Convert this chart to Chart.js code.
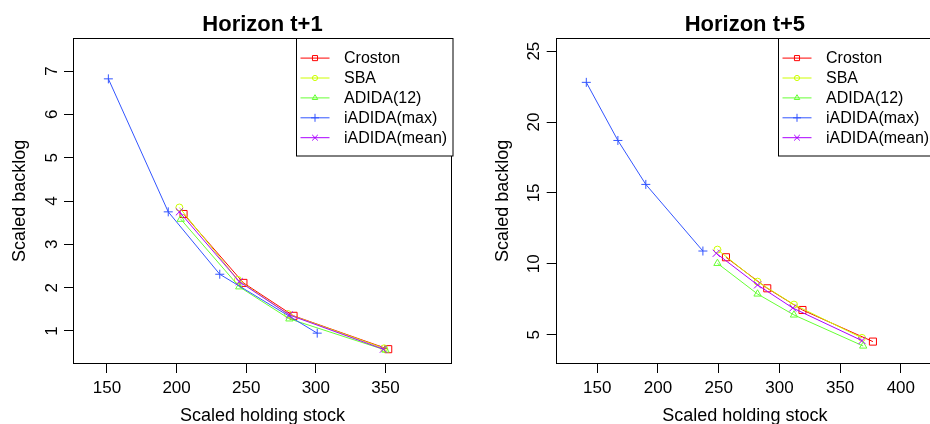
<!DOCTYPE html>
<html><head><meta charset="utf-8">
<script src="https://cdn.jsdelivr.net/npm/chart.js@4/dist/chart.umd.min.js"></script>
<style>
html,body{margin:0;padding:0;background:#fff;overflow:hidden;width:930px;height:424px;position:relative;}
#c1{position:absolute;left:0;top:0;}
#c2{position:absolute;left:465px;top:0;}
</style></head><body>
<canvas id="c1" width="465" height="424"></canvas>
<canvas id="c2" width="475" height="424"></canvas>
<script>
const seriesNames = ['Croston', 'SBA', 'ADIDA(12)', 'iADIDA(max)', 'iADIDA(mean)'];
const seriesColors = ['#FF0000', '#CCFF00', '#66FF33', '#3355FF', '#AA00FF'];
const seriesPointStyles = ['rect', 'circle', 'triangle', 'cross', 'crossRot'];

const panelTitles = ['Horizon t+1', 'Horizon t+5'];
const xAxisTitle = 'Scaled holding stock';
const yAxisTitle = 'Scaled backlog';

// Horizon t+1
const h1CrostonX = [205, 248, 284, 352];
const h1CrostonY = [3.70, 2.11, 1.35, 0.58];
const h1SbaX = [202, 244, 280, 349];
const h1SbaY = [3.85, 2.18, 1.39, 0.60];
const h1AdidaX = [203, 245, 281, 350];
const h1AdidaY = [3.58, 2.02, 1.28, 0.56];
const h1MaxX = [151, 194, 231, 301];
const h1MaxY = [6.82, 3.75, 2.31, 0.95];
const h1MeanX = [202, 245, 281, 348.5];
const h1MeanY = [3.75, 2.14, 1.37, 0.58];

// Horizon t+5
const h5CrostonX = [256, 290, 319, 377];
const h5CrostonY = [10.46, 8.27, 6.74, 4.51];
const h5SbaX = [249, 282, 312, 368];
const h5SbaY = [11.00, 8.74, 7.12, 4.77];
const h5AdidaX = [249, 282, 312, 369];
const h5AdidaY = [10.03, 7.87, 6.39, 4.20];
const h5MaxX = [141, 167, 190, 237];
const h5MaxY = [22.8, 18.7, 15.6, 10.9];
const h5MeanX = [248, 282, 311, 368];
const h5MeanY = [10.74, 8.51, 6.88, 4.58];

// Tick labels
const h1XTicks = [150, 200, 250, 300, 350];
const h1YTicks = [1, 2, 3, 4, 5, 6, 7];
const h5XTicks = [150, 200, 250, 300, 350, 400];
const h5YTicks = [5, 10, 15, 20, 25];

// Axis ranges
const h1XRange = [125.6, 397.8];
const h1YRange = [0.238, 7.77];
const h5XRange = [115.8, 427.3];
const h5YRange = [2.93, 25.95];

const FONT = '"Liberation Sans", Arial, Helvetica, sans-serif';
const pointRadii = [5, 3.5, 4.2, 4.5, 5];
const legendRadii = [3.6, 2.6, 3.2, 4, 4];

function zip(xs, ys) { return xs.map((x, i) => ({x: x, y: ys[i]})); }

const overlay = {
  id: 'overlay',
  afterDraw(chart, args, o) {
    const ctx = chart.ctx, a = chart.chartArea;
    ctx.save();
    // plot box
    const L = Math.round(a.left) + 0.5, T = Math.round(a.top) + 0.5;
    const R = Math.round(a.right) - 0.5, B = Math.round(a.bottom) - 0.5;
    ctx.strokeStyle = '#000'; ctx.lineWidth = 1;
    ctx.strokeRect(L, T, R - L, B - T);
    // title
    ctx.fillStyle = '#000';
    ctx.font = 'bold 22px ' + FONT;
    ctx.textAlign = 'center'; ctx.textBaseline = 'alphabetic';
    ctx.fillText(o.title, (a.left + a.right) / 2, 31);
    // y tick labels (rotated, like R)
    const ys = chart.scales.y;
    ctx.font = '17px ' + FONT;
    ys.ticks.forEach(t => {
      const py = ys.getPixelForValue(t.value);
      ctx.save();
      ctx.translate(a.left - 16.5, py);
      ctx.rotate(-Math.PI / 2);
      ctx.textAlign = 'center'; ctx.textBaseline = 'alphabetic';
      ctx.fillText(String(t.value), 0, 0);
      ctx.restore();
    });
    // legend
    const lw = 156.5, lh = 117.5;
    const x0 = Math.round(a.right - lw) + 0.5, y0 = T;
    ctx.fillStyle = '#fff';
    ctx.fillRect(x0, y0, lw, lh);
    ctx.strokeStyle = '#000';
    ctx.strokeRect(x0, y0, lw, lh);
    chart.data.datasets.forEach((ds, i) => {
      const ry = y0 + 19.6 + i * 19.9;
      ctx.strokeStyle = ds.borderColor; ctx.lineWidth = 1;
      ctx.beginPath(); ctx.moveTo(x0 + 4, ry); ctx.lineTo(x0 + 33, ry); ctx.stroke();
      ctx.fillStyle = 'rgba(0,0,0,0)';
      Chart.helpers.drawPoint(ctx, {pointStyle: ds.pointStyle, radius: legendRadii[i], borderWidth: 1, rotation: 0}, x0 + 18.5, ry);
      ctx.fillStyle = '#000';
      ctx.font = '16px ' + FONT;
      ctx.textAlign = 'left'; ctx.textBaseline = 'middle';
      ctx.fillText(ds.label, x0 + 47.5, ry + 0.5);
    });
    ctx.restore();
  }
};

function makeChart(id, xsList, ysList, xRange, yRange, xTicks, yTicks, title, yAxisW, padRight, yTitlePad) {
  const datasets = seriesNames.map((name, i) => ({
    label: name,
    data: zip(xsList[i], ysList[i]),
    showLine: true,
    borderColor: seriesColors[i],
    backgroundColor: 'rgba(0,0,0,0)',
    borderWidth: 1,
    pointStyle: seriesPointStyles[i],
    pointRadius: pointRadii[i],
    pointHoverRadius: pointRadii[i],
    pointBorderColor: seriesColors[i],
    pointBackgroundColor: 'rgba(0,0,0,0)',
    pointBorderWidth: 1,
    order: seriesNames.length - i,
    tension: 0
  }));
  return new Chart(document.getElementById(id), {
    type: 'scatter',
    data: {datasets},
    options: {
      responsive: false,
      animation: false,
      devicePixelRatio: 1,
      layout: {padding: {top: 37.7, right: padRight, bottom: 0, left: 0}},
      plugins: {legend: {display: false}, tooltip: {enabled: false}, title: {display: false}, overlay: {title}},
      scales: {
        x: {
          type: 'linear', min: xRange[0], max: xRange[1],
          afterBuildTicks: s => { s.ticks = xTicks.map(v => ({value: v})); },
          afterFit: s => { s.height = 60; },
          border: {display: false},
          grid: {drawOnChartArea: false, drawTicks: true, tickLength: 9, color: '#000', lineWidth: 1},
          ticks: {color: '#000', font: {family: FONT, size: 17}, padding: 5, maxRotation: 0, autoSkip: false},
          title: {display: true, text: xAxisTitle, color: '#000', font: {family: FONT, size: 18, lineHeight: 1}, padding: {top: 0, bottom: -1}}
        },
        y: {
          type: 'linear', min: yRange[0], max: yRange[1],
          afterBuildTicks: s => { s.ticks = yTicks.map(v => ({value: v})); },
          afterFit: s => { s.width = yAxisW; },
          border: {display: false},
          grid: {drawOnChartArea: false, drawTicks: true, tickLength: 9, color: '#000', lineWidth: 1},
          ticks: {display: false},
          title: {display: true, text: yAxisTitle, color: '#000', font: {family: FONT, size: 18, lineHeight: 1}, padding: {top: yTitlePad - 0.5, bottom: 0}}
        }
      }
    },
    plugins: [overlay]
  });
}

makeChart('c1',
  [h1CrostonX, h1SbaX, h1AdidaX, h1MaxX, h1MeanX],
  [h1CrostonY, h1SbaY, h1AdidaY, h1MaxY, h1MeanY],
  h1XRange, h1YRange, h1XTicks, h1YTicks, panelTitles[0], 73, 13, 11.5);
makeChart('c2',
  [h5CrostonX, h5SbaX, h5AdidaX, h5MaxX, h5MeanX],
  [h5CrostonY, h5SbaY, h5AdidaY, h5MaxY, h5MeanY],
  h5XRange, h5YRange, h5XTicks, h5YTicks, panelTitles[1], 90.7, 5.3, 29.2);
</script>
</body></html>
